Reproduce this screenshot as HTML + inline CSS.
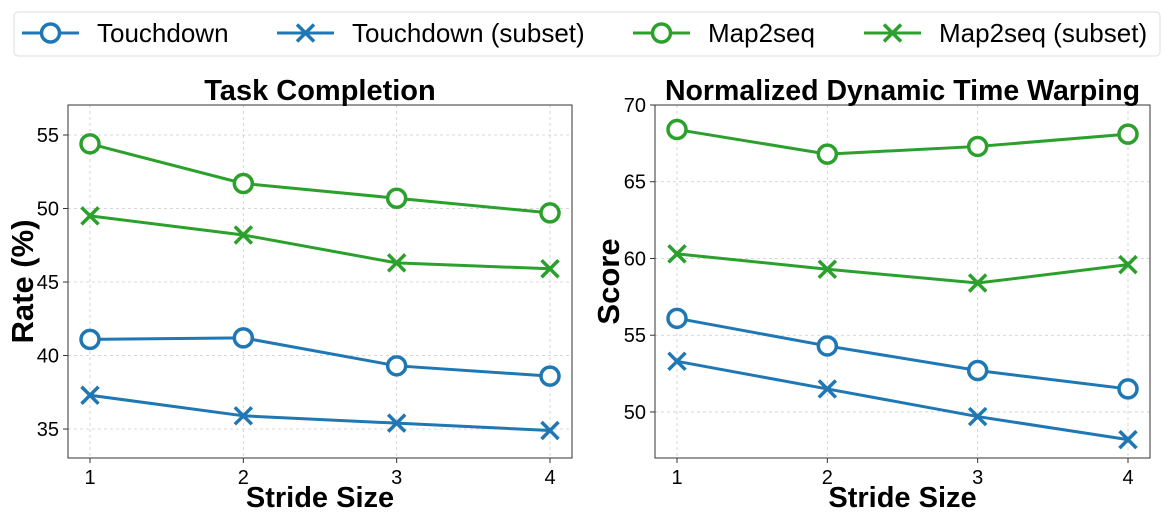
<!DOCTYPE html>
<html><head><meta charset="utf-8"><style>
body{margin:0;background:#fff;width:1174px;height:516px;overflow:hidden;font-family:"Liberation Sans",sans-serif}
</style></head><body>
<svg id="c" width="1174" height="516" xmlns="http://www.w3.org/2000/svg"></svg>
<script>
const strides=[1,2,3,4];
const tcTouchdown=[41.1,41.2,39.3,38.6];
const tcTouchdownSub=[37.3,35.9,35.4,34.9];
const tcMap2seq=[54.4,51.7,50.7,49.7];
const tcMap2seqSub=[49.5,48.2,46.3,45.9];
const nTouchdown=[56.1,54.3,52.7,51.5];
const nTouchdownSub=[53.3,51.5,49.7,48.2];
const nMap2seq=[68.4,66.8,67.3,68.1];
const nMap2seqSub=[60.3,59.3,58.4,59.6];
const tcTicks=[35,40,45,50,55];
const nTicks=[50,55,60,65,70];
const legendLabels=["Touchdown","Touchdown (subset)","Map2seq","Map2seq (subset)"];
const BLUE="#1f77b4",GREEN="#2ca02c";
const svg=document.getElementById('c');
const NS="http://www.w3.org/2000/svg";
function el(t,a,p){const e=document.createElementNS(NS,t);for(const k in a)e.setAttribute(k,a[k]);(p||svg).appendChild(e);return e;}
function txt(s,a,p){const e=el('text',a,p);e.textContent=s;return e;}
function marker(g,x,y,type,color){
 if(type==='o'){const m=el('circle',{cx:x,cy:y,r:9,fill:'#fff',stroke:color,'stroke-width':3.5},g);
 }
 else{const m=el('path',{d:`M${x-8.5} ${y-8.5}L${x+8.5} ${y+8.5}M${x-8.5} ${y+8.5}L${x+8.5} ${y-8.5}`,stroke:color,'stroke-width':3.5,fill:'none'},g);
 }
}
function panel(cfg){
 const g=el('g',{});
 const {x0,x1,y0,y1,ymin,ymax}=cfg;
 const X=v=>cfg.xa+(v-1)*(cfg.xb-cfg.xa)/3;
 const Y=v=>y1-(v-ymin)/(ymax-ymin)*(y1-y0);
 strides.forEach(s=>{el('line',{x1:X(s),x2:X(s),y1:y0,y2:y1,stroke:'#ccc','stroke-dasharray':'3,3','stroke-width':0.8},g);
  el('line',{x1:X(s),x2:X(s),y1:y1,y2:y1+5,stroke:'#333'},g);
  const t=txt(s,{x:X(s),y:y1+26,'font-size':20,'text-anchor':'middle'},g);});
 cfg.ticks.forEach(v=>{el('line',{x1:x0,x2:x1,y1:Y(v),y2:Y(v),stroke:'#ccc','stroke-dasharray':'3,3','stroke-width':0.8},g);
  el('line',{x1:x0-5,x2:x0,y1:Y(v),y2:Y(v),stroke:'#333'},g);
  const t=txt(v,{x:x0-9,y:Y(v)+7,'font-size':20,'text-anchor':'end'},g);});
 const fr=el('rect',{x:x0,y:y0,width:x1-x0,height:y1-y0,fill:'none',stroke:'#333','stroke-width':1},g);
 
 cfg.series.forEach(([vals,type,color,nm])=>{
  const sg=el('g',{},g);
  el('polyline',{points:vals.map((v,i)=>X(strides[i])+','+Y(v)).join(' '),fill:'none',stroke:color,'stroke-width':3},sg);
  vals.forEach((v,i)=>marker(sg,X(strides[i]),Y(v),type,color));
 });
 const t=txt(cfg.title,{x:(x0+x1)/2,y:y0-5,'font-size':cfg.tfs,'font-weight':'bold','text-anchor':'middle'},g);
 const xl=txt('Stride Size',{x:(x0+x1)/2,y:507,'font-size':29,'font-weight':'bold','text-anchor':'middle'},g);
 const yl=txt(cfg.ylabel,{x:0,y:0,'font-size':31,'font-weight':'bold','text-anchor':'middle',transform:`translate(${cfg.ylx},${(y0+y1)/2}) rotate(-90)`},g);
}
panel({name:'task-completion-panel',x0:68,x1:572,y0:105,y1:458,xa:90,xb:550,ymin:33.03,ymax:57.04,ticks:tcTicks,title:'Task Completion',tfs:29,ylabel:'Rate (%)',ylx:33,
 series:[[tcTouchdown,'o',BLUE,'series-touchdown'],[tcTouchdownSub,'x',BLUE,'series-touchdown-subset'],[tcMap2seq,'o',GREEN,'series-map2seq'],[tcMap2seqSub,'x',GREEN,'series-map2seq-subset']]});
panel({name:'ndtw-panel',x0:655,x1:1150,y0:105,y1:458,xa:677,xb:1128,ymin:47.0,ymax:70,ticks:nTicks,title:'Normalized Dynamic Time Warping',tfs:28.5,ylabel:'Score',ylx:619,
 series:[[nTouchdown,'o',BLUE,'series-touchdown'],[nTouchdownSub,'x',BLUE,'series-touchdown-subset'],[nMap2seq,'o',GREEN,'series-map2seq'],[nMap2seqSub,'x',GREEN,'series-map2seq-subset']]});
const lg=el('g',{});
el('rect',{x:14,y:12,width:1146,height:44,rx:4,fill:'#fff',stroke:'#ddd'},lg);
const lx=[22,277,633,864],types=['o','x','o','x'],cols=[BLUE,BLUE,GREEN,GREEN];
legendLabels.forEach((l,i)=>{const e=el('g',{},lg);
 el('line',{x1:lx[i],x2:lx[i]+57,y1:33,y2:33,stroke:cols[i],'stroke-width':3},e);marker(e,lx[i]+28.5,33,types[i],cols[i]);
 txt(l,{x:lx[i]+75,y:42,'font-size':26},e);});
</script>
</body></html>
